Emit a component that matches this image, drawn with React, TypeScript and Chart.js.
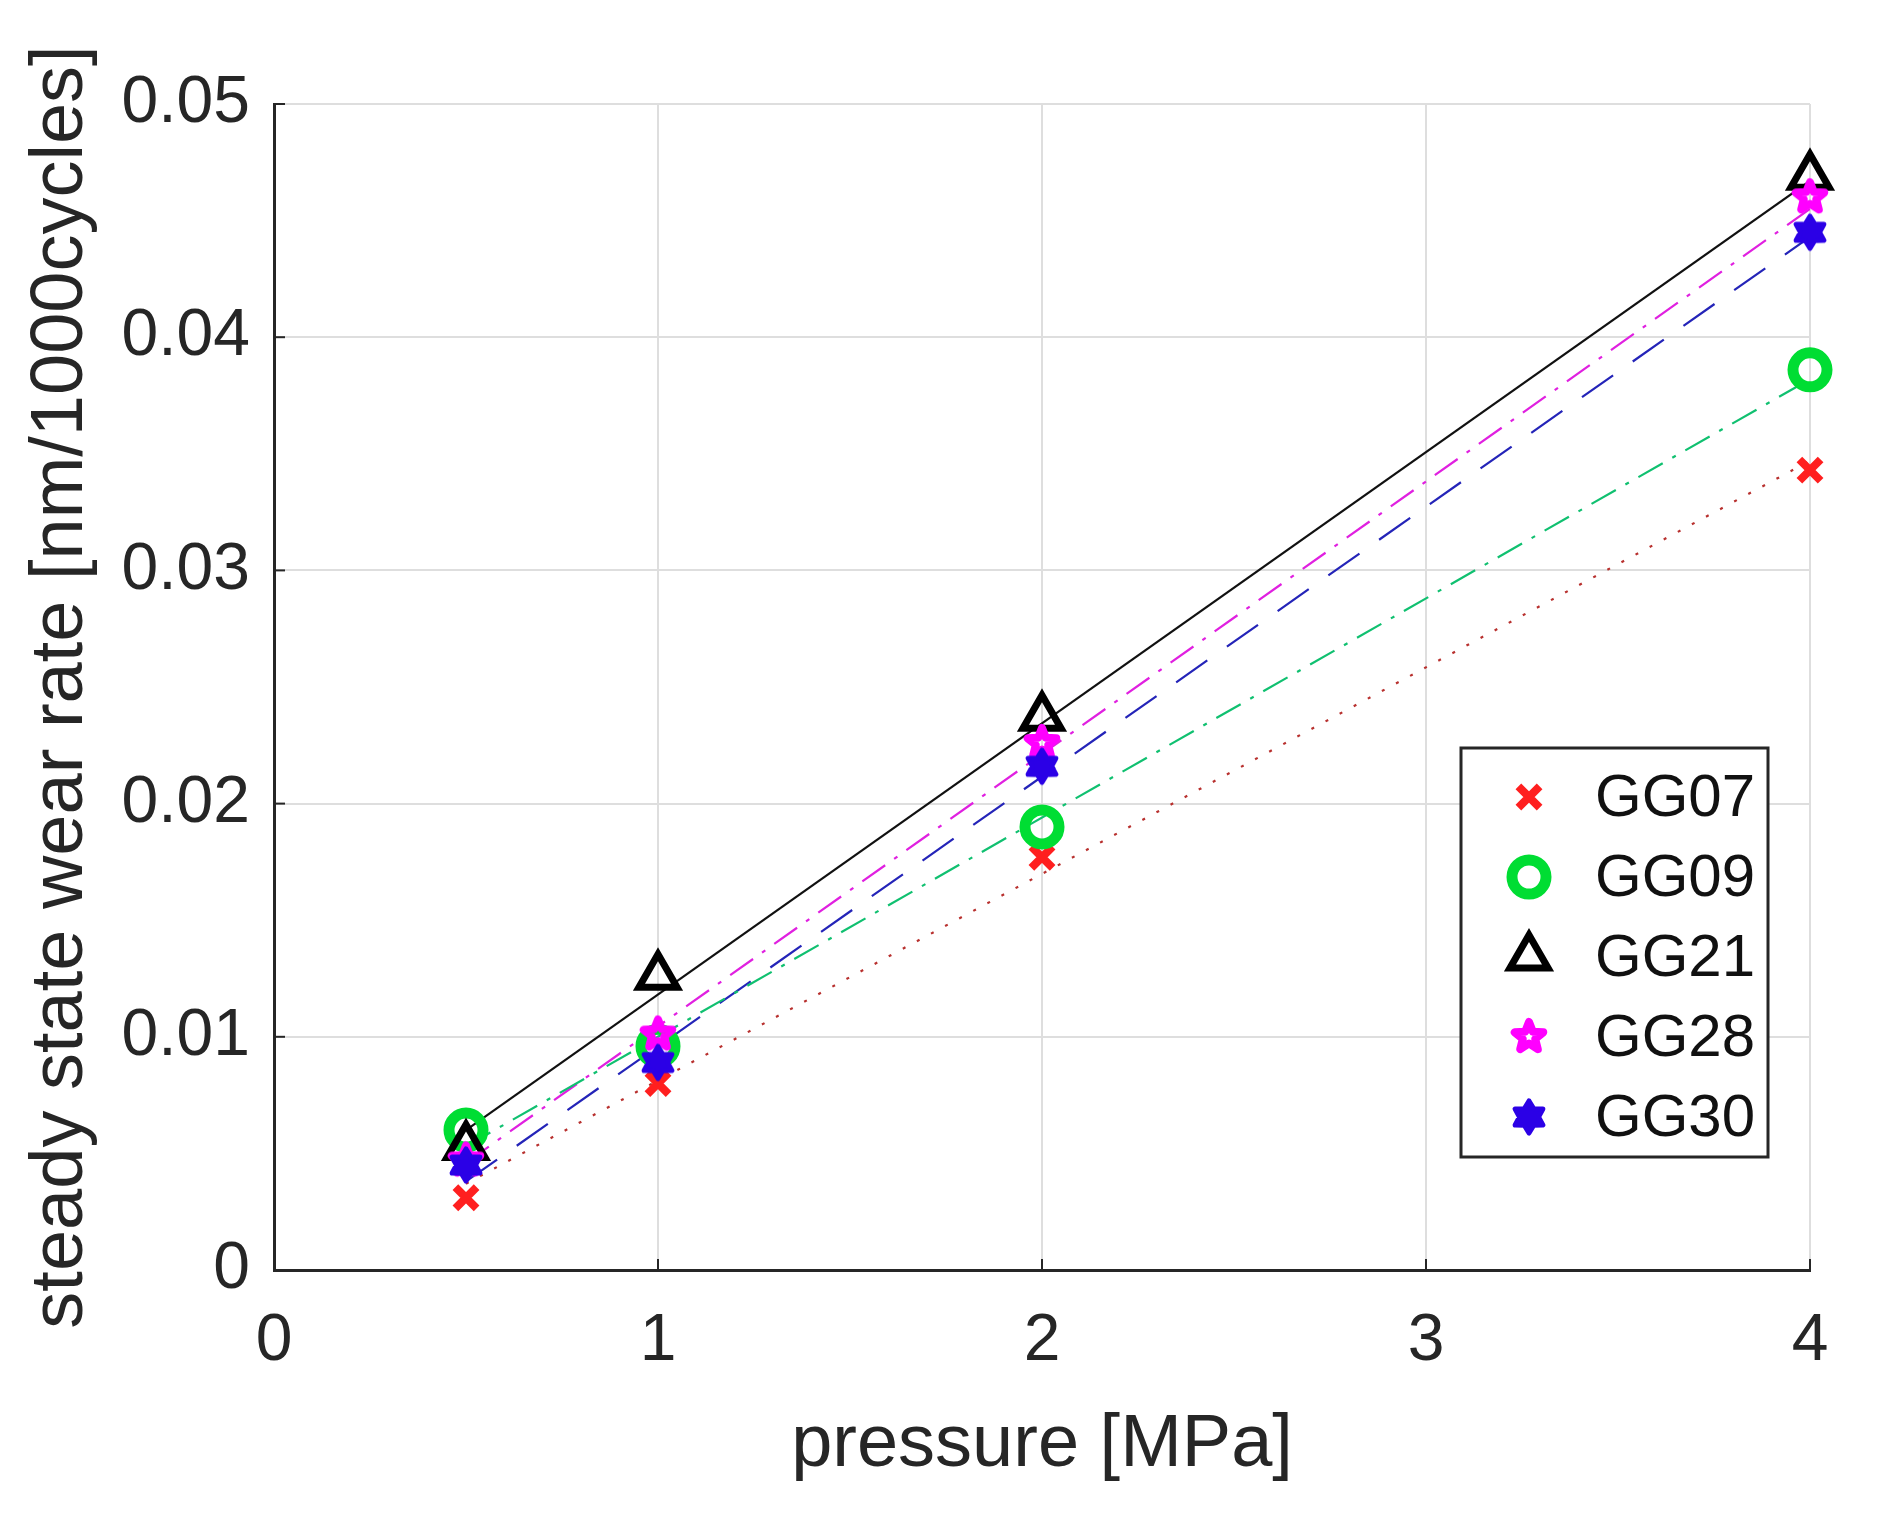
import { useEffect, useRef } from "react"
import Chart from "chart.js/auto"
import { drawPoint } from "chart.js/helpers"

// pressure [MPa]
const pressure = [0.5, 1, 2, 4]
const fitX = [0.5, 4]

const labels = ["GG07", "GG09", "GG21", "GG28", "GG30"]

// measured wear rates [nm/1000cycles]
const gg07 = [0.0031, 0.008, 0.0177, 0.0343]
const gg09 = [0.006, 0.0096, 0.019, 0.0386]
const gg21 = [0.0053, 0.0126, 0.0237, 0.0469]
const gg28 = [0.0047, 0.0101, 0.0226, 0.046]
const gg30 = [0.0045, 0.0089, 0.0216, 0.0445]

// linear fit lines, read at both ends (x = 0.5 and x = 4)
const fit07 = [0.0037, 0.0347]
const fit09 = [0.0053, 0.0382]
const fit21 = [0.006, 0.0467]
const fit28 = [0.0046, 0.0455]
const fit30 = [0.0038, 0.0443]

const xTickLabels = ["0", "1", "2", "3", "4"]
const yTickLabels = ["0", "0.01", "0.02", "0.03", "0.04", "0.05"]

const FONT = "'Liberation Sans', Arial, sans-serif"
const INK = "#262626"

const toPts = (xs: number[], ys: number[]) => xs.map((x, i) => ({ x, y: ys[i] }))

function starCanvas(points: number, outer: number, inner: number, color: string, fill: boolean, lw: number) {
    const size = 48
    const c = document.createElement("canvas")
    c.width = size
    c.height = size
    const ctx = c.getContext("2d")!
    ctx.beginPath()
    for (let i = 0; i < points * 2; i++) {
        const r = i % 2 === 0 ? outer : inner
        const a = -Math.PI / 2 + (i * Math.PI) / points
        const px = size / 2 + Math.cos(a) * r
        const py = size / 2 + Math.sin(a) * r
        if (i === 0) ctx.moveTo(px, py)
        else ctx.lineTo(px, py)
    }
    ctx.closePath()
    ctx.strokeStyle = color
    ctx.fillStyle = color
    ctx.lineJoin = "round"
    ctx.lineWidth = lw
    if (fill) ctx.fill()
    ctx.stroke()
    return c
}

// small inward tick marks on the left and bottom axes
const innerTicks = {
    id: "innerTicks",
    afterDatasetsDraw(chart: any) {
        const { ctx, chartArea, scales } = chart
        ctx.save()
        ctx.strokeStyle = INK
        ctx.lineWidth = 2
        scales.x.ticks.forEach((t: any) => {
            const px = scales.x.getPixelForValue(t.value)
            ctx.beginPath()
            ctx.moveTo(px, chartArea.bottom)
            ctx.lineTo(px, chartArea.bottom - 11)
            ctx.stroke()
        })
        scales.y.ticks.forEach((t: any) => {
            const py = scales.y.getPixelForValue(t.value)
            ctx.beginPath()
            ctx.moveTo(chartArea.left, py)
            ctx.lineTo(chartArea.left + 11, py)
            ctx.stroke()
        })
        ctx.restore()
    },
}

// legend box inside the plot, lower right
const boxLegend = {
    id: "boxLegend",
    afterDraw(chart: any) {
        const { ctx, chartArea } = chart
        const left = chartArea.right - 349
        const top = chartArea.top + 644
        const w = 307
        const h = 409
        ctx.save()
        ctx.fillStyle = "#ffffff"
        ctx.fillRect(left, top, w, h)
        ctx.strokeStyle = INK
        ctx.lineWidth = 3
        ctx.strokeRect(left, top, w, h)
        const marks = chart.data.datasets.filter((d: any) => !d.isFit)
        marks.forEach((d: any, i: number) => {
            const cy = top + 49 + i * 80
            const cx = left + 68
            ctx.strokeStyle = d.borderColor
            ctx.fillStyle = d.backgroundColor
            ctx.lineWidth = d.borderWidth
            drawPoint(ctx, { pointStyle: d.pointStyle, radius: d.pointRadius, borderWidth: d.borderWidth, rotation: 0 }, cx, cy)
            ctx.fillStyle = "#111111"
            ctx.font = `60px ${FONT}`
            ctx.textBaseline = "middle"
            ctx.textAlign = "left"
            ctx.fillText(d.label, left + 134, cy + 2)
        })
        ctx.restore()
    },
}

export default function App() {
    const chartRef = useRef<HTMLCanvasElement>(null)
    const chartInstance = useRef<Chart | null>(null)

    useEffect(() => {
        if (!chartRef.current) return
        if (chartInstance.current) chartInstance.current.destroy()

        const pentagram = starCanvas(5, 15, 6.5, "#ff00ff", false, 8)
        const hexagram = starCanvas(6, 16, 9.5, "#2b00e6", true, 5)

        const fitLine = (label: string, ys: number[], color: string, dash: number[]) => ({
            label,
            isFit: true,
            data: toPts(fitX, ys),
            showLine: true,
            borderColor: color,
            borderWidth: 2.2,
            borderDash: dash,
            pointRadius: 0,
            fill: false,
            order: 10,
        })

        chartInstance.current = new Chart(chartRef.current, {
            type: "scatter",
            data: {
                datasets: [
                    fitLine("fit07", fit07, "#b8302e", [3, 13]),
                    fitLine("fit09", fit09, "#10c070", [28, 11, 4, 11]),
                    fitLine("fit21", fit21, "#111111", []),
                    fitLine("fit28", fit28, "#e020e0", [28, 11, 4, 11]),
                    fitLine("fit30", fit30, "#2424b8", [38, 24]),
                    {
                        label: labels[0],
                        data: toPts(pressure, gg07),
                        pointStyle: "crossRot",
                        pointRadius: 15,
                        borderColor: "#ff1f1f",
                        backgroundColor: "#ff1f1f",
                        borderWidth: 8,
                        order: 5,
                        clip: false,
                    },
                    {
                        label: labels[1],
                        data: toPts(pressure, gg09),
                        pointStyle: "circle",
                        pointRadius: 17,
                        borderColor: "#00dd33",
                        backgroundColor: "rgba(0,0,0,0)",
                        borderWidth: 11,
                        order: 4,
                        clip: false,
                    },
                    {
                        label: labels[2],
                        data: toPts(pressure, gg21),
                        pointStyle: "triangle",
                        pointRadius: 22,
                        borderColor: "#000000",
                        backgroundColor: "rgba(0,0,0,0)",
                        borderWidth: 7,
                        order: 3,
                        clip: false,
                    },
                    {
                        label: labels[3],
                        data: toPts(pressure, gg28),
                        pointStyle: pentagram,
                        pointRadius: 16,
                        borderColor: "#ff00ff",
                        backgroundColor: "#ff00ff",
                        borderWidth: 0,
                        order: 2,
                        clip: false,
                    },
                    {
                        label: labels[4],
                        data: toPts(pressure, gg30),
                        pointStyle: hexagram,
                        pointRadius: 18,
                        borderColor: "#2b00e6",
                        backgroundColor: "#2b00e6",
                        borderWidth: 0,
                        order: 1,
                        clip: false,
                    },
                ] as any,
            },
            options: {
                animation: false,
                responsive: true,
                maintainAspectRatio: false,
                layout: { padding: { top: 104, right: 72, left: 0, bottom: 0 } },
                plugins: { legend: { display: false }, tooltip: { enabled: false } },
                scales: {
                    x: {
                        type: "linear",
                        min: 0,
                        max: 4,
                        afterFit: (s: any) => {
                            s.height = 248
                        },
                        ticks: {
                            stepSize: 1,
                            padding: 32,
                            color: INK,
                            font: { family: FONT, size: 66 },
                            callback: (v: any) => xTickLabels[Math.round(Number(v))],
                        },
                        grid: { color: "#dedede", lineWidth: 2, drawTicks: false },
                        border: { color: INK, width: 3 },
                        title: {
                            display: true,
                            text: "pressure [MPa]",
                            color: INK,
                            font: { family: FONT, size: 74 },
                            padding: { top: 0, bottom: 28 },
                        },
                    },
                    y: {
                        type: "linear",
                        min: 0,
                        max: 0.05,
                        afterFit: (s: any) => {
                            s.width = 274
                        },
                        ticks: {
                            stepSize: 0.01,
                            padding: 24,
                            color: INK,
                            font: { family: FONT, size: 66 },
                            callback: (v: any) => yTickLabels[Math.round(Number(v) / 0.01)],
                        },
                        grid: { color: "#dedede", lineWidth: 2, drawTicks: false },
                        border: { color: INK, width: 3 },
                        title: {
                            display: true,
                            text: "steady state wear rate [nm/1000cycles]",
                            color: INK,
                            font: { family: FONT, size: 74 },
                            padding: { top: 17, bottom: 0 },
                        },
                    },
                },
            },
            plugins: [innerTicks, boxLegend],
        })

        return () => {
            chartInstance.current?.destroy()
        }
    }, [])

    return (
        <div style={{ position: "absolute", left: 0, top: 0, width: 1882, height: 1518, background: "#ffffff" }}>
            <canvas ref={chartRef}></canvas>
        </div>
    )
}
